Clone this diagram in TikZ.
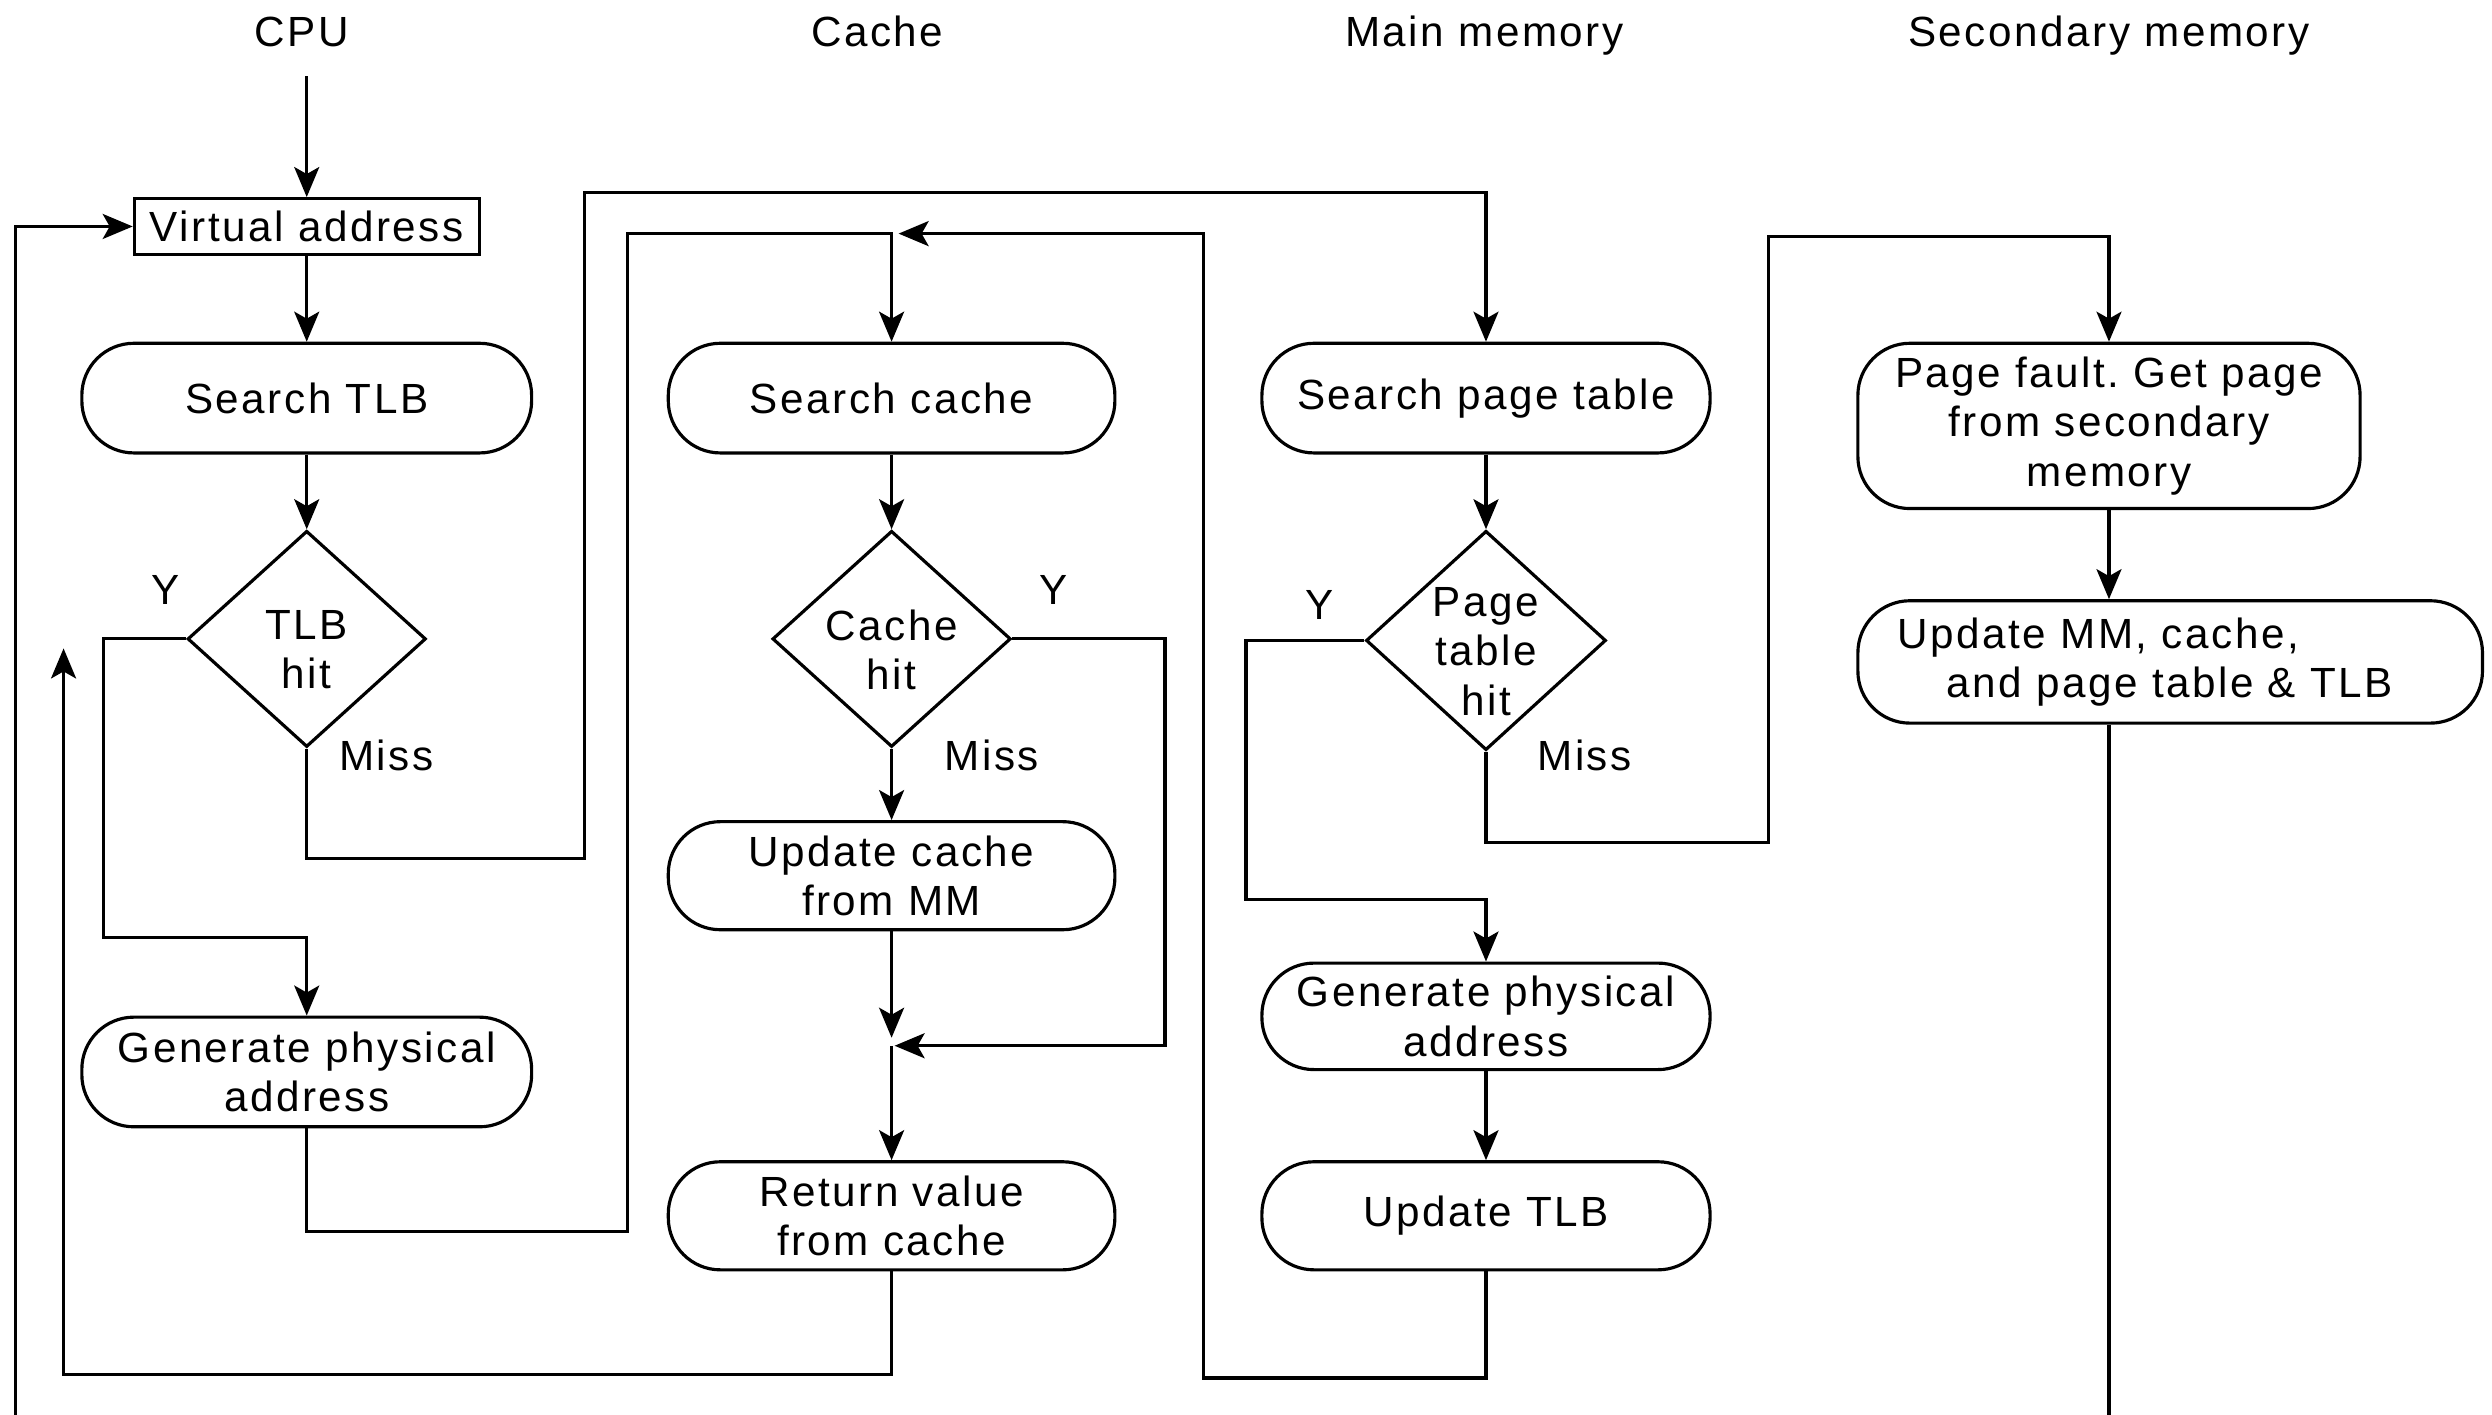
\documentclass[tikz,border=0pt]{standalone}
\usepackage{fontspec}
\setmainfont{Liberation Sans}[LetterSpace=6]
\usetikzlibrary{shapes.geometric,arrows.meta}
% one drawing unit
\def\pxu{0.01589cm}
\frenchspacing
\begin{document}
\begin{tikzpicture}[x=0.01589cm, y=-0.01589cm,
  font=\fontsize{12pt}{14pt}\selectfont,
  line width=0.9pt,
  arr/.style={-{Stealth[length=0.3cm,width=0.25cm,inset=0.07cm]}},
  term/.style={draw, rounded corners=0.52cm, align=center, inner sep=0pt},
  plainbox/.style={draw, inner sep=0pt, minimum width=217*\pxu, minimum height=35*\pxu},
  dec/.style={draw, diamond, inner sep=0pt, minimum width=150*\pxu, minimum height=136*\pxu},
  dectext/.style={align=center, yshift=-0.11cm},
  head/.style={anchor=base},
  tag/.style={anchor=base}]
\useasboundingbox (0,0) rectangle (1568,890);

% column headings
\node[head] (hcpu) at (190,29.5) {CPU};
\node[head] (hcache) at (552,29.5) {Cache};
\node[head] (hmm) at (934,29.5) {Main memory};
\node[head] (hsec) at (1327,29.5) {Secondary memory};

% CPU column
\node[plainbox] (va) at (193,142.5) {Virtual address};
\node[term, minimum width=283*\pxu, minimum height=69*\pxu] (stlb) at (193,250.5) {Search TLB};
\node[dec, label={[dectext]center:{TLB\\hit}}] (tlbhit) at (193,402) {};
\node[term, minimum width=283*\pxu, minimum height=69*\pxu] (gpa1) at (193,674.5) {Generate physical\\address};

% cache column
\node[term, minimum width=281*\pxu, minimum height=69*\pxu] (sc) at (561,250.5) {Search cache};
\node[dec, label={[dectext]center:{Cache\\hit}}] (chit) at (561,402) {};
\node[term, minimum width=281*\pxu, minimum height=68*\pxu] (uc) at (561,551) {Update cache\\from MM};
\node[term, minimum width=281*\pxu, minimum height=68*\pxu] (rv) at (561,765) {Return value\\from cache};

% main memory column
\node[term, minimum width=282*\pxu, minimum height=69*\pxu] (spt) at (935,250.5) {Search page table};
\node[dec, minimum width=151*\pxu, minimum height=138*\pxu, label={[dectext]center:{Page\\table\\hit}}] (pth) at (935,403) {};
\node[term, minimum width=282*\pxu, minimum height=67*\pxu] (gpa2) at (935,639.5) {Generate physical\\address};
\node[term, minimum width=282*\pxu, minimum height=68*\pxu] (utlb) at (935,765) {Update TLB};

% secondary memory column
\node[term, minimum width=316*\pxu, minimum height=104*\pxu] (pf) at (1327,268) {Page fault. Get page\\from secondary\\memory};
\node[term, minimum width=393*\pxu, minimum height=77*\pxu] (upd) at (1365.5,416.5) {};
\node[anchor=west, align=left, inner sep=0pt] (updtxt) at (1193,416.5) {Update MM, cache,\\\hspace*{0.49cm}and page table \& TLB};

% branch labels
\node[tag] (ty) at (104,380.5) {Y};
\node[tag] (tm) at (243,484.5) {Miss};
\node[tag] (cy) at (663,380.5) {Y};
\node[tag] (cm) at (624,484.5) {Miss};
\node[tag] (py) at (830,389.5) {Y};
\node[tag] (pm) at (997,484.5) {Miss};

% junction points and free ends
\coordinate (cpuin) at (193,48);
\coordinate (jc) at (561,147);
\coordinate (jr) at (561,658);
\coordinate (back) at (40,408);
\coordinate (loopin) at (10,891);
\coordinate (secout) at (1327,891);

% CPU flow
\draw[arr] (cpuin) -- (va);
\draw[arr] (va) -- (stlb);
\draw[arr] (stlb) -- (tlbhit);
\draw[arr] (tlbhit.west) -- (65,402) -- (65,590) -- (193,590) -- (gpa1);
\draw[arr] (tlbhit.south) -- (193,540) -- (368,540) -- (368,121) -- (935,121) -- (spt);
\draw[arr] (gpa1.south) -- (193,775) -- (395,775) -- (395,147) -- (jc) -- (sc);
\draw[arr] (loopin) -- (10,142.5) -- (va.west);

% cache flow
\draw[arr] (sc) -- (chit);
\draw[arr] (chit) -- (uc);
\draw[arr, shorten >=0.03cm] (chit.east) -- (733,402) -- (733,658) -- (jr);
\draw[arr, shorten >=0.08cm] (uc) -- (jr);
\draw[arr] (jr) -- (rv);
\draw[arr] (rv.south) -- (561,865) -- (40,865) -- (back);

% main memory flow
\draw[arr] (spt) -- (pth);
\draw[arr] (pth.west) -- (784,403) -- (784,566) -- (935,566) -- (gpa2);
\draw[arr] (gpa2) -- (utlb);
\draw[arr, shorten >=0.07cm] (utlb.south) -- (935,867) -- (757,867) -- (757,147) -- (jc);
\draw[arr] (pth.south) -- (935,530) -- (1113,530) -- (1113,149) -- (1327,149) -- (pf);

% secondary memory flow
\draw[arr] (pf) -- (upd.north -| pf.south);
\draw (upd.south -| pf.south) -- (secout);
\end{tikzpicture}
\end{document}
